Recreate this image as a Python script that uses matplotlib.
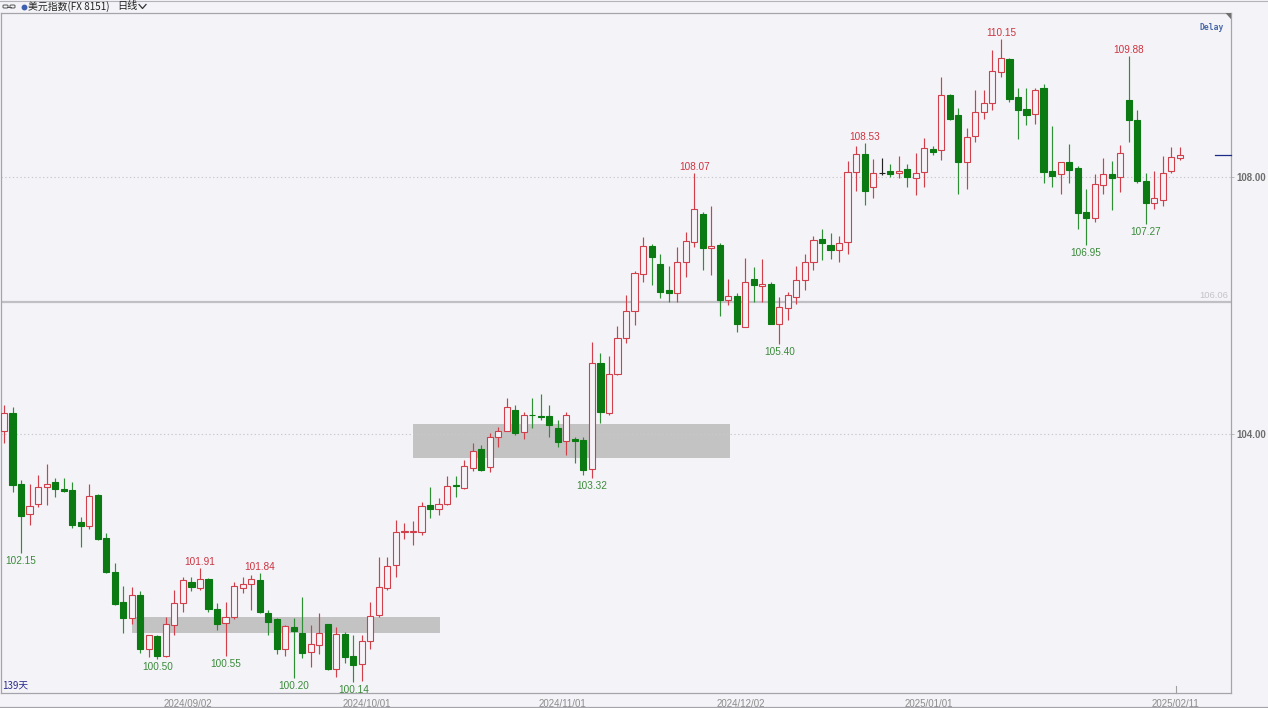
import matplotlib
matplotlib.use("Agg")
import matplotlib.pyplot as plt
from matplotlib.lines import Line2D
from matplotlib.patches import Rectangle, Polygon, FancyBboxPatch
from matplotlib.transforms import ScaledTranslation, blended_transform_factory
import numpy as np
import pandas as pd

# ---------------- data: US Dollar Index, daily ----------------
dates = pd.bdate_range("2024-08-01", "2025-02-11")

opens = [
    104.05, 104.33, 103.22, 102.76, 102.91, 103.18, 103.25, 103.15, 103.13, 102.63,
    102.57, 103.05, 102.39, 101.86, 101.39, 101.14, 101.49, 100.66, 100.85, 100.55,
    101.03, 101.37, 101.69, 101.61, 101.74, 101.28, 101.06, 101.16, 101.60, 101.66,
    101.73, 101.22, 101.12, 100.65, 101.00, 100.90, 100.61, 100.72, 101.04, 100.34,
    100.89, 100.55, 100.42, 100.78, 101.18, 101.60, 101.96, 102.47, 102.48, 102.47,
    102.89, 102.84, 102.91, 103.20, 103.16, 103.47, 103.77, 103.48, 103.96, 104.05,
    104.38, 104.03, 104.30, 104.28, 104.28, 104.09, 103.89, 103.92, 103.91, 103.45,
    105.11, 104.33, 104.93, 105.49, 105.92, 106.49, 106.93, 106.64, 106.24, 106.19,
    106.68, 106.99, 107.43, 106.89, 106.94, 106.09, 106.15, 105.67, 106.41, 106.31,
    106.33, 105.72, 105.96, 106.14, 106.40, 106.68, 107.03, 106.94, 106.86, 106.99,
    108.08, 108.36, 107.84, 108.07, 108.09, 108.07, 108.12, 107.98, 108.08, 108.43,
    108.42, 109.28, 108.96, 108.24, 108.64, 109.01, 109.15, 109.63, 109.84, 109.25,
    109.06, 108.98, 109.38, 108.10, 108.04, 108.24, 108.14, 107.46, 107.36, 107.88,
    108.04, 108.00, 109.20, 108.88, 107.94, 107.59, 107.65, 108.09, 108.30,
]
highs = [
    104.45, 104.42, 103.28, 103.22, 103.36, 103.54, 103.32, 103.32, 103.26, 102.71,
    103.22, 103.07, 102.46, 102.00, 101.63, 101.62, 101.56, 100.88, 100.87, 101.16,
    101.57, 101.78, 101.78, 101.91, 101.76, 101.37, 101.38, 101.70, 101.78, 101.80,
    101.84, 101.26, 101.13, 101.03, 101.13, 101.47, 101.03, 101.22, 101.04, 101.00,
    100.92, 100.87, 100.88, 101.39, 102.09, 102.08, 102.67, 102.61, 102.64, 102.95,
    103.18, 103.00, 103.35, 103.34, 103.60, 103.86, 103.83, 104.01, 104.11, 104.56,
    104.45, 104.35, 104.56, 104.62, 104.45, 104.22, 104.34, 103.96, 103.96, 105.44,
    105.26, 105.21, 105.68, 106.16, 106.54, 107.07, 106.96, 106.80, 106.62, 106.91,
    107.15, 108.07, 107.45, 107.55, 106.97, 106.42, 106.19, 106.74, 106.60, 106.72,
    106.37, 106.14, 106.21, 106.61, 106.80, 107.08, 107.19, 107.13, 107.08, 108.25,
    108.48, 108.53, 108.28, 108.29, 108.21, 108.32, 108.21, 108.37, 108.60, 108.48,
    109.55, 109.29, 109.07, 108.77, 109.36, 109.36, 109.97, 110.15, 109.86, 109.38,
    109.39, 109.38, 109.45, 108.79, 108.24, 108.51, 108.17, 107.81, 108.04, 108.29,
    108.25, 108.50, 109.88, 109.04, 108.07, 108.09, 108.32, 108.46, 108.47,
]
lows = [
    103.86, 103.10, 102.15, 102.58, 102.87, 102.90, 103.02, 103.10, 102.54, 102.25,
    102.52, 102.35, 101.84, 101.34, 100.90, 101.05, 100.59, 100.53, 100.50, 100.53,
    100.87, 101.23, 101.55, 101.57, 101.23, 100.95, 100.55, 101.12, 101.52, 101.26,
    101.21, 100.87, 100.58, 100.54, 100.20, 100.51, 100.38, 100.58, 100.33, 100.22,
    100.44, 100.14, 100.16, 100.66, 101.16, 101.57, 101.78, 102.36, 102.27, 102.43,
    102.70, 102.74, 102.89, 103.02, 103.14, 103.43, 103.43, 103.41, 103.80, 104.04,
    103.98, 103.92, 104.09, 104.22, 103.96, 103.80, 103.67, 103.55, 103.36, 103.32,
    104.17, 104.30, 104.92, 105.41, 105.70, 106.37, 106.32, 106.11, 106.06, 106.06,
    106.45, 106.91, 106.55, 106.47, 105.83, 106.01, 105.59, 105.67, 106.06, 106.06,
    105.72, 105.40, 105.77, 106.02, 106.24, 106.55, 106.71, 106.73, 106.67, 106.80,
    107.79, 107.56, 107.67, 108.03, 108.00, 107.98, 107.85, 107.72, 107.85, 108.35,
    108.26, 108.88, 107.74, 107.82, 108.55, 108.91, 109.04, 109.55, 109.17, 108.59,
    108.81, 108.82, 107.90, 107.84, 107.74, 107.91, 107.19, 106.95, 107.30, 107.74,
    107.48, 107.76, 108.55, 107.91, 107.27, 107.51, 107.55, 108.07, 108.26,
]
closes = [
    104.33, 103.21, 102.73, 102.88, 103.17, 103.23, 103.14, 103.12, 102.58, 102.57,
    103.03, 102.37, 101.85, 101.36, 101.13, 101.49, 100.66, 100.88, 100.55, 101.05,
    101.37, 101.73, 101.62, 101.75, 101.28, 101.04, 101.16, 101.63, 101.66, 101.74,
    101.23, 101.08, 100.66, 101.01, 100.94, 100.60, 100.73, 100.91, 100.34, 100.89,
    100.53, 100.40, 100.78, 101.17, 101.62, 101.95, 102.47, 102.49, 102.49, 102.88,
    102.84, 102.91, 103.19, 103.19, 103.51, 103.74, 103.44, 103.96, 104.05, 104.42,
    104.02, 104.30, 104.29, 104.26, 104.14, 103.87, 104.30, 103.89, 103.44, 105.10,
    104.35, 104.94, 105.50, 105.92, 106.51, 106.93, 106.76, 106.21, 106.19, 106.67,
    107.00, 107.51, 106.89, 106.93, 106.09, 106.15, 105.71, 106.37, 106.32, 106.33,
    105.72, 105.98, 106.16, 106.39, 106.67, 107.02, 106.98, 106.86, 106.97, 108.08,
    108.36, 107.79, 108.07, 108.07, 108.05, 108.10, 108.00, 108.07, 108.45, 108.39,
    109.28, 108.91, 108.24, 108.63, 109.02, 109.15, 109.65, 109.85, 109.21, 109.04,
    108.96, 109.35, 108.08, 108.02, 108.24, 108.11, 107.44, 107.36, 107.89, 108.04,
    107.98, 108.38, 108.88, 107.94, 107.59, 107.67, 108.07, 108.31, 108.35,
]

# swing highs / lows that carry a price tag
high_tag_dates = ["2024-09-03", "2024-09-12", "2024-11-22", "2024-12-20", "2025-01-13", "2025-02-03"]
low_tag_dates = ["2024-08-05", "2024-08-27", "2024-09-06", "2024-09-18", "2024-09-27",
                 "2024-11-06", "2024-12-06", "2025-01-27", "2025-02-05"]

# shaded consolidation zones: (first date, last date, lower price, upper price)
zone_starts = ["2024-08-22", "2024-10-08"]
zone_ends = ["2024-10-11", "2024-11-28"]
zone_lows = [100.90, 103.63]
zone_highs = [101.16, 104.15]

ref_level = 106.06
grid_levels = [104.00, 108.00]
date_ticks = ["2024-09-02", "2024-10-01", "2024-11-01", "2024-12-02", "2025-01-01", "2025-02-11"]

title = "美元指数(FX 8151)"
period = "日线"

# ---------------- style ----------------
BG = "#f4f4f8"
UP = "#d13f4b"
DOWN = "#0b7a12"
DOWN_WICK = "#2f8f35"
FLAT = "#222222"
UP_TAG = "#cc3340"
DOWN_TAG = "#3a8a3a"
W, H = 1268, 708
L_PX, R_PX, T_PX, B_PX = 1, 1231, 13, 693

plt.rcParams["font.family"] = ["Liberation Sans", "DejaVu Sans"]

o = np.array(opens); h = np.array(highs); lo = np.array(lows); c = np.array(closes)
n = len(o)
x = np.arange(n)

fig = plt.figure(figsize=(W / 100, H / 100), dpi=100, facecolor=BG)
ax = fig.add_axes([L_PX / W, (H - B_PX) / H, (R_PX - L_PX) / W, (B_PX - T_PX) / H])
ax.set_facecolor(BG)
ax.set_xlim(-0.35, 144.0)
ax.set_ylim(99.97, 110.553)

# zones
for s, e, zl, zh in zip(zone_starts, zone_ends, zone_lows, zone_highs):
    xs = dates.get_loc(pd.Timestamp(s))
    xe = dates.get_loc(pd.Timestamp(e)) + 0.2
    ax.add_patch(Rectangle((xs, zl), xe - xs, zh - zl, facecolor="#c3c3c3",
                           edgecolor="none", zorder=1))

# reference level
ax.axhline(ref_level, color="#bfbfc4", lw=1.6, zorder=1.5)
ax.annotate(f"{ref_level:.2f}", xy=(1.0, ref_level), xycoords=("axes fraction", "data"),
            xytext=(-3, 2), textcoords="offset pixels", ha="right", va="bottom",
            fontsize=6.8, color="#c4c4c8")

# candles
is_up = c > o
is_dn = c < o
wick_col = np.where(is_up, UP, np.where(is_dn, DOWN_WICK, FLAT))
edge_col = np.where(is_up, UP, np.where(is_dn, DOWN, FLAT))
face_col = np.where(is_up, BG, np.where(is_dn, DOWN, FLAT))
ax.vlines(x, lo, h, colors=wick_col, lw=0.85, zorder=2)
ax.bar(x, np.abs(c - o), bottom=np.minimum(o, c), width=0.72, color=face_col,
       edgecolor=edge_col, linewidth=0.8, zorder=3)

# price tags
for d in high_tag_dates:
    i = dates.get_loc(pd.Timestamp(d))
    ax.annotate(f"{h[i]:.2f}", xy=(i, h[i]), xytext=(0, 3), textcoords="offset pixels",
                ha="center", va="baseline", fontsize=7.2, color=UP_TAG, zorder=5)
for d in low_tag_dates:
    i = dates.get_loc(pd.Timestamp(d))
    ax.annotate(f"{lo[i]:.2f}", xy=(i, lo[i]), xytext=(0, -3), textcoords="offset pixels",
                ha="center", va="top", fontsize=7.2, color=DOWN_TAG, zorder=5)

# last price marker on the right edge
ax.plot([0.987, 1.0], [c[-1], c[-1]], transform=blended_transform_factory(ax.transAxes, ax.transData),
        color="#1c2a8a", lw=0.9, zorder=4, clip_on=False)

# axes / grid
ax.yaxis.tick_right()
ax.set_yticks(grid_levels)
ax.set_yticklabels([f"{v:.2f}" for v in grid_levels])
ax.tick_params(axis="y", length=2, width=0.6, color="#b0b0b0", pad=2,
               labelsize=7, labelcolor="#6e6e6e")
for t in ax.get_yticklabels():
    t.set_fontweight("bold")
ax.grid(axis="y", linestyle=(0, (1.2, 2.2)), color="#c9c9cc", lw=0.8, zorder=0)

tick_pos = [dates.get_loc(pd.Timestamp(d)) for d in date_ticks]
ax.set_xticks(tick_pos)
ax.set_xticklabels([pd.Timestamp(d).strftime("%Y/%m/%d") for d in date_ticks])
ax.tick_params(axis="x", length=0, pad=4, labelsize=7, labelcolor="#8c8c8c")
shift = ScaledTranslation(-4 / 100, 0, fig.dpi_scale_trans)
for t in ax.get_xticklabels():
    t.set_transform(t.get_transform() + shift)

# short marker for the latest session on the time axis
ax.plot([tick_pos[-1], tick_pos[-1]], [0, 0.01],
        transform=blended_transform_factory(ax.transData + shift, ax.transAxes),
        color="#a0a0a0", lw=0.8, clip_on=False)

for sp in ax.spines.values():
    sp.set_color("#a4a4aa")
    sp.set_linewidth(0.9)

# session count, bottom left
ax.text(0.001, 0.004, "139天", transform=ax.transAxes, ha="left", va="bottom",
        fontsize=7, color="#2a2a8c", family=["Noto Sans CJK SC", "DejaVu Sans"])

# delay badge, top right
ax.text(0.994, 0.985, "Delay", transform=ax.transAxes, ha="right", va="top",
        fontsize=5.8, color="#4a6aa8", family="DejaVu Sans Mono", fontweight="bold")
ax.add_patch(Polygon([[1.0, 1.0], [0.9955, 1.0], [1.0, 0.991]], closed=True,
                     transform=ax.transAxes, facecolor="#707070", edgecolor="none",
                     clip_on=False, zorder=6))


# ---------------- header strip ----------------
def fx(px):
    return px / W


def fy(py):
    return 1 - py / H


fig.add_artist(FancyBboxPatch((fx(3), fy(8)), fx(5), 3 / H,
                              boxstyle="round,pad=0,rounding_size=0.001",
                              transform=fig.transFigure, facecolor="none",
                              edgecolor="#555555", lw=0.7))
fig.add_artist(FancyBboxPatch((fx(10), fy(8)), fx(5), 3 / H,
                              boxstyle="round,pad=0,rounding_size=0.001",
                              transform=fig.transFigure, facecolor="none",
                              edgecolor="#555555", lw=0.7))
fig.add_artist(Line2D([fx(7), fx(11)], [fy(6.5), fy(6.5)], transform=fig.transFigure,
                      color="#555555", lw=0.7))
fig.add_artist(Line2D([fx(24)], [fy(6.5)], marker="o", markersize=3.2,
                      markerfacecolor="#3f5fb0", markeredgecolor="#3f5fb0",
                      transform=fig.transFigure))
fig.text(fx(28), fy(6.5), title, ha="left", va="center", fontsize=7.1, color="#222222",
         family=["Noto Sans CJK SC", "DejaVu Sans"])
fig.text(fx(117), fy(6.5), period, ha="left", va="center", fontsize=7.3, color="#222222",
         family=["Noto Sans CJK SC", "DejaVu Sans"])
fig.add_artist(Line2D([fx(139), fx(142.5), fx(146)], [fy(4.5), fy(8.5), fy(4.5)],
                      transform=fig.transFigure, color="#333333", lw=0.9))

# frame lines of the window
fig.add_artist(Line2D([0, 1], [fy(0.5), fy(0.5)], transform=fig.transFigure,
                      color="#b4b4b8", lw=0.8))
fig.add_artist(Line2D([0, 1], [fy(707), fy(707)], transform=fig.transFigure,
                      color="#a4a4aa", lw=0.9))

fig.savefig("out.png", dpi=100, facecolor=BG)
